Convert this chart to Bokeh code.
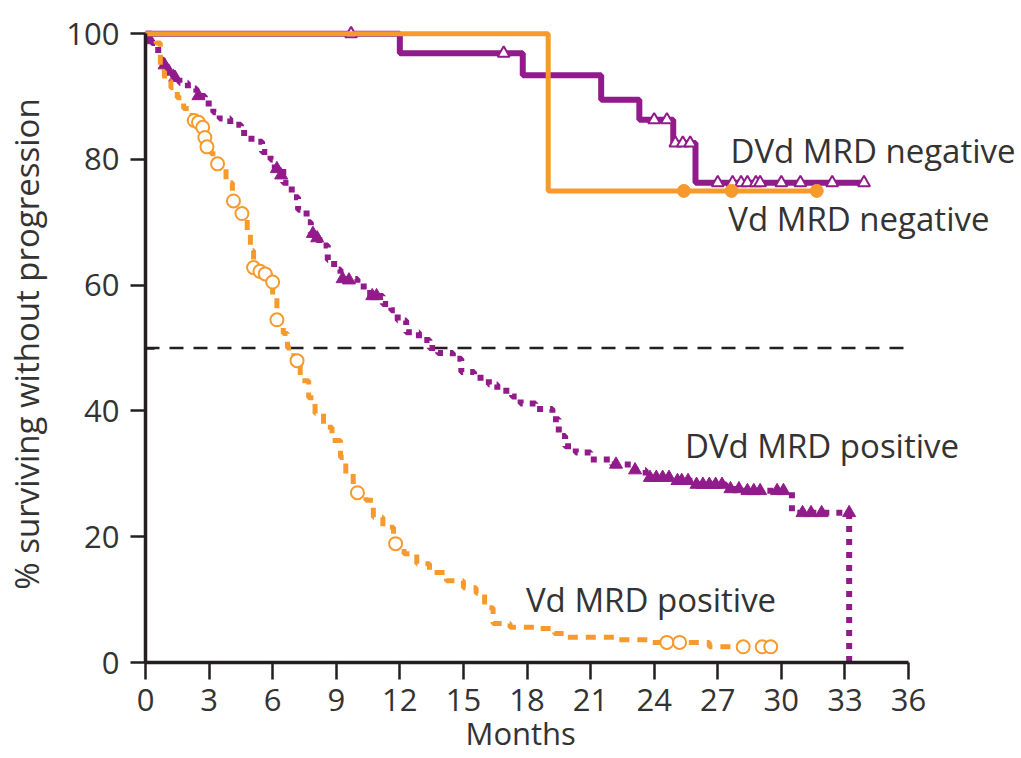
from bokeh.plotting import figure
from bokeh.models import Range1d, FixedTicker, Label, Title
from bokeh.embed import file_html
from bokeh.resources import INLINE

PURPLE = "#921B8B"
ORANGE = "#F79A2E"
INK = "#231F20"
TEXT = "#333333"
FONT = "Open Sans"

# ---- axis ticks ----
month_ticks = [0, 3, 6, 9, 12, 15, 18, 21, 24, 27, 30, 33, 36]
pct_ticks = [0, 20, 40, 60, 80, 100]
ref_level = 50

# ---- DVd MRD negative (solid purple) ----
dvd_neg_t = [0, 12.0, 17.8, 21.5, 23.3, 24.9, 25.95, 34.0]
dvd_neg_s = [100, 96.9, 93.4, 89.5, 86.3, 82.6, 76.3, 76.3]
dvd_neg_cens_t = [9.7, 16.9, 24.0, 24.6, 25.0, 25.35, 25.7, 27.0, 27.7, 28.1,
                  28.4, 28.8, 29.0, 30.0, 30.9, 32.4, 33.9]
dvd_neg_cens_s = [100, 96.9, 86.3, 86.3, 82.6, 82.6, 82.6, 76.3, 76.3, 76.3,
                  76.3, 76.3, 76.3, 76.3, 76.3, 76.3, 76.3]

# ---- Vd MRD negative (solid orange) ----
vd_neg_t = [0, 19.0, 31.7]
vd_neg_s = [100, 75.0, 75.0]
vd_neg_cens_t = [25.4, 27.65, 31.67]
vd_neg_cens_s = [75.0, 75.0, 75.0]

# ---- DVd MRD positive (dotted purple) ----
dvd_pos_t = [0, 0.3, 0.6, 0.8, 1.0, 1.3, 1.6, 2.0, 2.4, 2.8, 3.2, 3.5, 4.0, 4.5,
             5.0, 5.5, 5.9, 6.1, 6.5, 6.9, 7.2, 7.6, 7.8, 8.2, 8.6, 8.9, 9.2,
             10.0, 10.6, 11.2, 11.6, 11.9, 12.3, 12.9, 13.4, 13.8, 14.5, 14.9,
             15.5, 16.2, 16.6, 17.3, 17.7, 18.4, 19.2, 19.5, 19.8, 20.3, 21.0,
             22.0, 22.9, 23.6, 25.0, 26.0, 27.4, 28.2, 30.5, 33.2, 33.2]
dvd_pos_s = [100, 98.5, 96.0, 95.0, 94.0, 93.0, 92.2, 91.3, 90.1, 88.9, 87.5,
             86.5, 85.5, 84.2, 82.8, 81.2, 80.0, 78.5, 76.3, 74.0, 72.0, 70.0,
             68.2, 66.3, 64.0, 62.5, 61.0, 59.8, 58.3, 57.0, 56.0, 54.4, 52.5,
             51.3, 50.0, 49.2, 48.3, 46.2, 45.3, 44.2, 43.2, 42.3, 41.2, 40.3,
             38.7, 36.0, 34.4, 33.4, 32.3, 31.5, 30.6, 29.4, 28.9, 28.3, 27.6,
             27.3, 23.8, 0.0, 0.0]
dvd_pos_cens_t = [0.2, 0.9, 1.1, 1.4, 2.5, 6.2, 6.4, 7.9, 8.1, 9.3, 9.6, 10.7,
                  10.9, 22.2, 23.1, 23.8, 24.1, 24.4, 24.7, 25.1, 25.3, 25.6,
                  26.0, 26.3, 26.6, 26.9, 27.2, 27.6, 28.0, 28.4, 28.7, 29.0,
                  29.8, 30.1, 31.0, 31.4, 31.9, 33.2]
dvd_pos_cens_s = [99.0, 95.0, 94.0, 93.0, 90.1, 78.5, 77.5, 68.2, 67.5, 61.0,
                  60.8, 58.3, 58.3, 31.5, 30.6, 29.4, 29.4, 29.4, 29.4, 28.9,
                  28.9, 28.9, 28.3, 28.3, 28.3, 28.3, 28.3, 27.6, 27.6, 27.3,
                  27.3, 27.3, 27.3, 27.3, 23.8, 23.8, 23.8, 23.8]

# ---- Vd MRD positive (dashed orange) ----
vd_pos_t = [0, 0.5, 0.7, 0.9, 1.2, 1.5, 1.8, 2.2, 2.6, 2.8, 3.1, 3.4, 3.8, 4.1,
            4.5, 4.8, 4.95, 5.1, 5.6, 5.9, 6.0, 6.2, 6.3, 6.5, 6.7, 7.0, 7.3,
            7.7, 8.0, 8.4, 8.8, 9.2, 9.45, 9.8, 10.4, 10.75, 11.2, 11.7, 12.2,
            12.8, 13.4, 14.2, 15.0, 15.6, 16.0, 16.4, 17.2, 18.5, 19.3, 19.9,
            22.3, 23.8, 26.6, 29.8]
vd_pos_s = [100, 98.5, 94.0, 92.5, 91.4, 89.8, 88.1, 86.2, 85.1, 82.0, 80.9,
            79.3, 76.3, 73.4, 71.4, 68.7, 65.5, 62.8, 61.8, 60.5, 58.0, 55.5,
            53.9, 52.3, 50.0, 48.0, 44.8, 42.1, 39.6, 37.4, 35.3, 32.6, 30.0,
            27.0, 25.8, 23.1, 21.5, 18.9, 17.3, 15.7, 14.3, 13.0, 11.9, 11.0,
            8.7, 6.2, 5.6, 5.4, 4.6, 4.0, 3.6, 3.2, 2.5, 2.5]
vd_pos_cens_t = [2.3, 2.5, 2.7, 2.8, 2.9, 3.4, 4.15, 4.55, 5.1, 5.4, 5.65, 6.0,
                 6.2, 7.15, 10.0, 11.8, 24.6, 25.2, 28.2, 29.1, 29.5]
vd_pos_cens_s = [86.2, 85.9, 85.1, 83.5, 82.0, 79.3, 73.4, 71.4, 62.8, 62.2,
                 61.8, 60.5, 54.5, 48.0, 27.0, 18.9, 3.2, 3.2, 2.5, 2.5, 2.5]

# ---- curve labels ----
labels = ["DVd MRD negative", "Vd MRD negative", "DVd MRD positive", "Vd MRD positive"]
label_x = [27.6, 27.5, 25.45, 17.95]
label_y = [81.4, 70.6, 34.5, 10.0]

# frame spans 145 px .. 1021 px; month 36 sits at 908 px (room for labels)
FRAME_L, AXIS_R, FIG_W = 145, 908, 1021
X_END = 36 * (FIG_W - FRAME_L) / (AXIS_R - FRAME_L)

p = figure(width=FIG_W, height=758, output_backend="svg", toolbar_location=None,
           x_range=Range1d(0, X_END), y_range=Range1d(0, 101.3),
           min_border_left=FRAME_L, min_border_right=0, min_border_top=25,
           min_border_bottom=96)
p.outline_line_color = None
p.grid.visible = False
p.background_fill_color = "white"
p.border_fill_color = "white"

# x axis
xa = p.xaxis[0]
xa.ticker = FixedTicker(ticks=month_ticks)
xa.bounds = (month_ticks[0], month_ticks[-1])
xa.axis_line_color = INK
xa.axis_line_width = 3.5
xa.major_tick_line_color = INK
xa.major_tick_line_width = 2.5
xa.major_tick_in = 0
xa.major_tick_out = 17
xa.minor_tick_line_color = None
xa.major_label_text_font = FONT
xa.major_label_text_font_size = "31px"
xa.major_label_text_color = TEXT
xa.major_label_standoff = 9

# x axis title, placed under the middle of the 0-36 axis
p.add_layout(Title(text="Months", align="left", vertical_align="top",
                   offset=320, standoff=-3,
                   text_font=FONT, text_font_size="31px",
                   text_font_style="normal", text_color=TEXT), "below")

# y axis
ya = p.yaxis[0]
ya.ticker = FixedTicker(ticks=pct_ticks, minor_ticks=[ref_level])
ya.bounds = (pct_ticks[0], pct_ticks[-1])
ya.axis_line_color = INK
ya.axis_line_width = 3.5
ya.major_tick_line_color = INK
ya.major_tick_line_width = 2.5
ya.major_tick_in = 0
ya.major_tick_out = 15
ya.minor_tick_line_color = INK
ya.minor_tick_line_width = 2.5
ya.minor_tick_in = 9
ya.minor_tick_out = 0
ya.major_label_text_font = FONT
ya.major_label_text_font_size = "31px"
ya.major_label_text_color = TEXT
ya.major_label_standoff = 11
ya.axis_label = "% surviving without progression"
ya.axis_label_text_font = FONT
ya.axis_label_text_font_size = "33px"
ya.axis_label_text_font_style = "normal"
ya.axis_label_text_color = TEXT
ya.axis_label_standoff = 14

# reference line at 50 %, across the axis extent
p.line([month_ticks[0], month_ticks[-1]], [ref_level, ref_level], line_color=INK,
       line_width=2.5, line_dash="14 10")

# positive curves
p.step(dvd_pos_t, dvd_pos_s, mode="after", line_color=PURPLE, line_width=6,
       line_dash="6 7")
p.scatter(dvd_pos_cens_t, dvd_pos_cens_s, marker="triangle", size=13,
          fill_color=PURPLE, line_color=PURPLE, line_width=1)
p.step(vd_pos_t, vd_pos_s, mode="after", line_color=ORANGE, line_width=5,
       line_dash="10 8")
p.scatter(vd_pos_cens_t, vd_pos_cens_s, marker="circle", size=13,
          fill_color="white", line_color=ORANGE, line_width=2)

# negative curves
p.step(dvd_neg_t, dvd_neg_s, mode="after", line_color=PURPLE, line_width=6)
p.scatter(dvd_neg_cens_t, dvd_neg_cens_s, marker="triangle", size=12,
          fill_color="white", line_color=PURPLE, line_width=2)
p.step(vd_neg_t, vd_neg_s, mode="after", line_color=ORANGE, line_width=5)
p.scatter(vd_neg_cens_t, vd_neg_cens_s, marker="circle", size=13,
          fill_color=ORANGE, line_color=ORANGE)

for txt, lx, ly in zip(labels, label_x, label_y):
    p.add_layout(Label(x=lx, y=ly, text=txt, text_font=FONT,
                       text_font_size="33px", text_color=TEXT,
                       text_baseline="middle", text_align="left"))

open("out.html", "w").write(file_html(p, INLINE))
